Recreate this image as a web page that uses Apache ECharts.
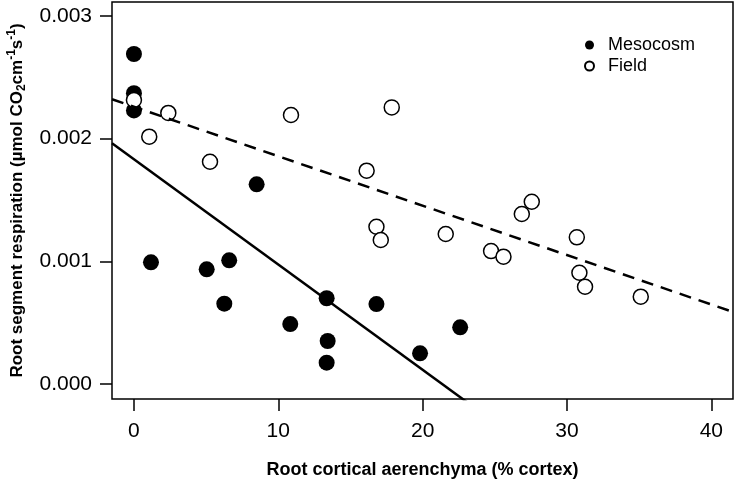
<!DOCTYPE html>
<html>
<head>
<meta charset="utf-8">
<script src="https://cdn.jsdelivr.net/npm/echarts@6/dist/echarts.min.js"></script>
<style>
  html, body { margin: 0; padding: 0; background: #fff; }
  #chart { width: 737px; height: 487px; }
</style>
</head>
<body>
<div id="chart"></div>
<script>
// data
const mesoX = [0, 0, 0, 8.5, 1.18, 5.04, 6.6, 6.26, 10.83, 13.35, 13.42, 13.35, 16.8, 19.82, 22.6];
const mesoY = [0.00269, 0.00237, 0.00223, 0.001628, 0.000992, 0.000935, 0.001008, 0.000655, 0.000489, 0.000699, 0.000351, 0.000174, 0.000652, 0.00025, 0.000462];
const fieldX = [0, 1.06, 2.38, 5.27, 10.88, 16.12, 16.8, 17.1, 17.86, 21.6, 24.74, 25.6, 26.87, 27.56, 30.68, 30.86, 31.25, 35.11];
const fieldY = [0.002315, 0.002016, 0.00221, 0.001812, 0.002193, 0.001739, 0.001282, 0.001174, 0.002255, 0.001223, 0.001084, 0.001038, 0.001386, 0.001486, 0.001196, 0.000907, 0.000793, 0.000712];

// regression lines: [intercept, slope]
const mesoFit = [0.001832, -0.0000858];
const fieldFit = [0.00226, -0.0000403];

const xTicks = [0, 10, 20, 30, 40];
const yTicks = [0, 0.001, 0.002, 0.003];
const xMin = -1.52, xMax = 41.5;
const yMin = -0.000122, yMax = 0.003114;

const font = 'Liberation Sans';

const toPairs = (xs, ys) => xs.map((x, i) => [x, ys[i]]);
const fitLine = f => [[xMin, f[0] + f[1] * xMin], [xMax, f[0] + f[1] * xMax]];

const chart = echarts.init(document.getElementById('chart'));
chart.setOption({
  animation: false,
  backgroundColor: '#fff',
  grid: {
    left: 112, right: 4, top: 2, bottom: 88,
    containLabel: false, outerBoundsMode: 'none',
    show: true, borderColor: '#000', borderWidth: 1.5, backgroundColor: 'transparent'
  },
  legend: {
    orient: 'vertical',
    left: 579, top: 31,
    itemWidth: 9, itemHeight: 9, itemGap: 3,
    textStyle: { fontFamily: font, fontSize: 18, color: '#000', padding: [0, 0, 0, 9] },
    data: ['Mesocosm', 'Field']
  },
  xAxis: {
    type: 'value', min: xMin, max: xMax,
    name: 'Root cortical aerenchyma (% cortex)',
    nameLocation: 'middle', nameGap: 62,
    nameTextStyle: { fontFamily: font, fontSize: 18, fontWeight: 'bold', color: '#000' },
    axisLine: { show: false, onZero: false },
    axisTick: { show: true, length: 12, customValues: xTicks, lineStyle: { color: '#000', width: 1.5 } },
    axisLabel: { customValues: xTicks, margin: 22, fontFamily: font, fontSize: 21, color: '#000' },
    splitLine: { show: false }
  },
  yAxis: {
    type: 'value', min: yMin, max: yMax,
    name: 'Root segment respiration (µmol CO{sub|2}cm{sup|-1}s{sup|-1})',
    nameLocation: 'middle', nameGap: 84,
    nameTextStyle: {
      fontFamily: font, fontSize: 17, fontWeight: 'bold', color: '#000', lineHeight: 22,
      rich: {
        sub: { fontFamily: font, fontSize: 12, fontWeight: 'bold', color: '#000', verticalAlign: 'bottom', lineHeight: 12 },
        sup: { fontFamily: font, fontSize: 12, fontWeight: 'bold', color: '#000', verticalAlign: 'top', lineHeight: 12 }
      }
    },
    axisLine: { show: false, onZero: false },
    axisTick: { show: true, length: 12, customValues: yTicks, lineStyle: { color: '#000', width: 1.5 } },
    axisLabel: {
      customValues: yTicks, margin: 20, fontFamily: font, fontSize: 21, color: '#000',
      formatter: v => v.toFixed(3)
    },
    splitLine: { show: false }
  },
  series: [
    {
      name: 'Mesocosm-fit', type: 'line', data: fitLine(mesoFit),
      symbol: 'none', clip: true, silent: true,
      lineStyle: { color: '#000', width: 2.5 }
    },
    {
      name: 'Field-fit', type: 'line', data: fitLine(fieldFit),
      symbol: 'none', clip: true, silent: true,
      lineStyle: { color: '#000', width: 2.5, type: [12, 8] }
    },
    {
      name: 'Mesocosm', type: 'scatter', data: toPairs(mesoX, mesoY),
      symbol: 'circle', symbolSize: 16,
      itemStyle: { color: '#000', borderColor: '#000', borderWidth: 0, opacity: 1 }
    },
    {
      name: 'Field', type: 'scatter', data: toPairs(fieldX, fieldY),
      symbol: 'circle', symbolSize: 15,
      itemStyle: { color: '#fff', borderColor: '#000', borderWidth: 1.5, opacity: 1 }
    }
  ]
});
</script>
</body>
</html>
